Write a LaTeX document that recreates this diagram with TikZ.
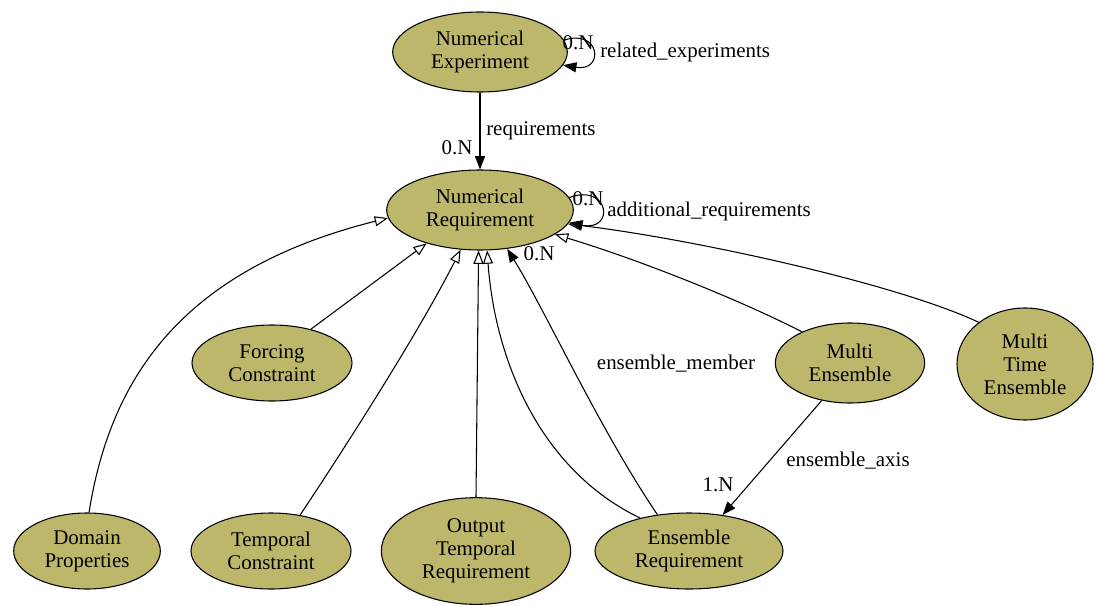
\documentclass[tikz,border=0pt]{standalone}
\usepackage{fontspec}
\setmainfont{Liberation Serif}
\usepackage{tikz}
\usetikzlibrary{arrows.meta,positioning,shapes.geometric}
\definecolor{khaki}{RGB}{189,183,107}

\begin{document}
\begin{tikzpicture}[x=0.75pt, y=-0.75pt,
        font=\fontsize{15.7}{17.3}\selectfont,
        cls/.style={draw, ellipse, fill=khaki, line width=0.8pt, align=center, inner sep=0pt},
        lbl/.style={inner sep=0pt},
        inherit/.style={draw, line width=0.8pt, -{Triangle[open, length=10pt, width=7.5pt, fill=white]}},
        assoc/.style={draw, line width=0.8pt, -{Triangle[length=10pt, width=7.5pt]}}]

        \useasboundingbox (0,0) rectangle (1099,606);

        % classes
        \node[cls, minimum width=131pt, minimum height=60pt] (numexp) at (480,52) {Numerical\\Experiment};
        \node[cls, minimum width=140pt, minimum height=60pt] (numreq) at (480,210) {Numerical\\Requirement};
        \node[cls, minimum width=120pt, minimum height=57pt] (forcing) at (272,363) {Forcing\\Constraint};
        \node[cls, minimum width=112pt, minimum height=60pt] (multiens) at (850,363) {Multi\\Ensemble};
        \node[cls, minimum width=102pt, minimum height=84pt] (multitime) at (1025,364) {Multi\\Time\\Ensemble};
        \node[cls, minimum width=110pt, minimum height=57pt] (domain) at (87,551) {Domain\\Properties};
        \node[cls, minimum width=120pt, minimum height=57pt] (temporal) at (271,551) {Temporal\\Constraint};
        \node[cls, minimum width=142pt, minimum height=80pt] (output) at (476,551) {Output\\Temporal\\Requirement};
        \node[cls, minimum width=141pt, minimum height=57pt] (ensreq) at (689,551) {Ensemble\\Requirement};

        % labels
        \node[lbl] (l1) at (457,148) {0.N};
        \node[lbl, anchor=west] (l2) at (486,131) {requirements};
        \node[lbl] (l3) at (578,43) {0.N};
        \node[lbl, anchor=west] (l4) at (600,52) {related\_experiments};
        \node[lbl] (l5) at (588,199) {0.N};
        \node[lbl, anchor=west] (l6) at (607,211) {additional\_requirements};
        \node[lbl] (l7) at (539,254) {0.N};
        \node[lbl] (l8) at (676,364) {ensemble\_member};
        \node[lbl] (l9) at (718,485) {1.N};
        \node[lbl] (l10) at (848,461) {ensemble\_axis};

        % inheritance
        \draw[inherit] (domain.87) .. controls (110,380) and (180,270) .. (numreq.185);
        \draw[inherit] (forcing.41) -- (numreq.212);
        \draw[inherit] (temporal.51) .. controls (350,440) and (420,330) .. (numreq.244);
        \draw[inherit] (output.90) -- (numreq.268);
        \draw[inherit] (ensreq.146) .. controls (540,470) and (495,360) .. (numreq.280);
        \draw[inherit] (multiens.147) .. controls (740,300) and (640,260) .. (numreq.342);
        \draw[inherit] (multitime.138) .. controls (900,285) and (700,240) .. (numreq.351);

        % associations
        \draw[assoc] (numexp.south) -- (numreq.north);
        \draw[assoc] (numexp.8) .. controls (600,28) and (605,72) .. (numexp.-9);
        \draw[assoc] (numreq.8) .. controls (610,183) and (615,232) .. (numreq.352);
        \draw[assoc] (ensreq.131) .. controls (600,430) and (545,310) .. (numreq.305);
        \draw[assoc] (multiens.233) -- (ensreq.47);
\end{tikzpicture}
\end{document}
